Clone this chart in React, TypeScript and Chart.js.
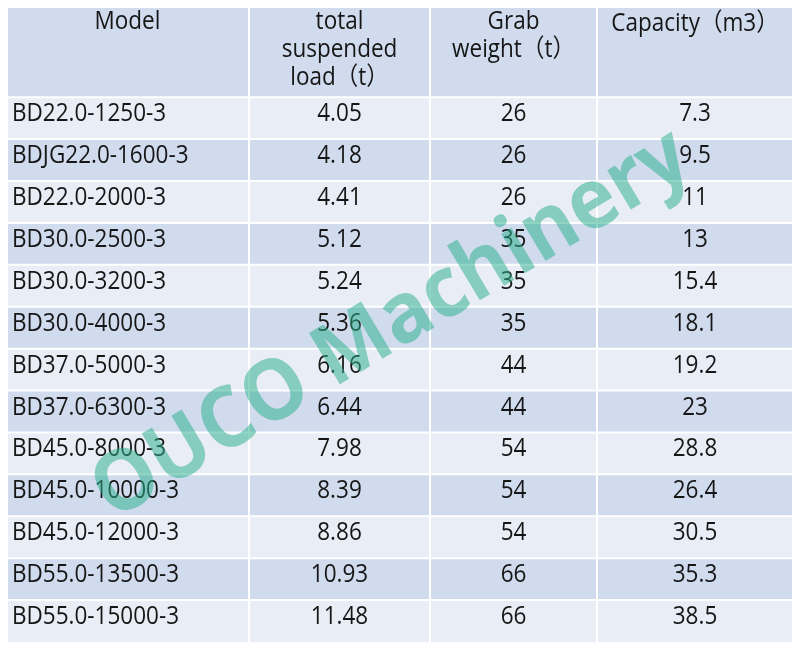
import React, { useEffect, useRef } from "react";
import { Chart, registerables } from "chart.js";

Chart.register(...registerables);

// ---- data ----
const HEADER_MODEL = ["Model"];
const HEADER_LOAD = ["total", "suspended", "load（t）"];
const HEADER_GRAB = ["Grab", "weight（t）"];
const HEADER_CAPACITY = ["Capacity（m3）"];

const MODELS = [
  "BD22.0-1250-3",
  "BDJG22.0-1600-3",
  "BD22.0-2000-3",
  "BD30.0-2500-3",
  "BD30.0-3200-3",
  "BD30.0-4000-3",
  "BD37.0-5000-3",
  "BD37.0-6300-3",
  "BD45.0-8000-3",
  "BD45.0-10000-3",
  "BD45.0-12000-3",
  "BD55.0-13500-3",
  "BD55.0-15000-3",
];
const TOTAL_LOAD = [4.05, 4.18, 4.41, 5.12, 5.24, 5.36, 6.16, 6.44, 7.98, 8.39, 8.86, 10.93, 11.48];
const GRAB_WEIGHT = [26, 26, 26, 35, 35, 35, 44, 44, 54, 54, 54, 66, 66];
const CAPACITY = [7.3, 9.5, 11, 13, 15.4, 18.1, 19.2, 23, 28.8, 26.4, 30.5, 35.3, 38.5];
const WATERMARK = "OUCO Machinery";

// ---- layout / style ----
const COL_WIDTHS = [243, 181, 167, 196];
const HEADER_UNITS = 2.2;
const DARK = "#d0dbee";
const LIGHT = "#e9edf6";
const TEXT = "#161616";
const FONT = "25px 'Open Sans', 'Noto Sans CJK SC', sans-serif";
const SX = 0.9;

function drawText(ctx: CanvasRenderingContext2D, text: string, px: number, py: number, align: CanvasTextAlign) {
  ctx.save();
  ctx.translate(px, py);
  ctx.scale(SX, 1);
  ctx.textAlign = align;
  ctx.textBaseline = "alphabetic";
  ctx.fillText(text, 0, 0);
  ctx.restore();
}

const tablePlugin = {
  id: "tablePlugin",
  beforeDatasetsDraw(chart: any) {
    const ctx: CanvasRenderingContext2D = chart.ctx;
    const xs = chart.scales.x;
    const ys = chart.scales.y;
    const colEdges = [0];
    COL_WIDTHS.forEach((w) => colEdges.push(colEdges[colEdges.length - 1] + w));
    const rowEdges = [0, HEADER_UNITS];
    MODELS.forEach((_, i) => rowEdges.push(HEADER_UNITS + i + 1));
    const headers = [HEADER_MODEL, HEADER_LOAD, HEADER_GRAB, HEADER_CAPACITY];
    const rows = MODELS.map((m, i) => [m, String(TOTAL_LOAD[i]), String(GRAB_WEIGHT[i]), String(CAPACITY[i])]);

    ctx.save();
    // cell fills
    for (let r = 0; r < rowEdges.length - 1; r++) {
      const top = ys.getPixelForValue(rowEdges[r]);
      const bot = ys.getPixelForValue(rowEdges[r + 1]);
      for (let c = 0; c < COL_WIDTHS.length; c++) {
        const l = xs.getPixelForValue(colEdges[c]);
        const rr = xs.getPixelForValue(colEdges[c + 1]);
        ctx.fillStyle = r % 2 === 0 ? DARK : LIGHT;
        ctx.fillRect(l, top, rr - l, bot - top);
      }
    }
    // white grid lines
    ctx.strokeStyle = "#ffffff";
    ctx.lineWidth = 2;
    const L = xs.getPixelForValue(0);
    const R = xs.getPixelForValue(colEdges[colEdges.length - 1]);
    const T = ys.getPixelForValue(0);
    const B = ys.getPixelForValue(rowEdges[rowEdges.length - 1]);
    for (let r = 1; r < rowEdges.length - 1; r++) {
      const y = ys.getPixelForValue(rowEdges[r]);
      ctx.beginPath();
      ctx.moveTo(L, y);
      ctx.lineTo(R, y);
      ctx.stroke();
    }
    for (let c = 1; c < colEdges.length - 1; c++) {
      const x = xs.getPixelForValue(colEdges[c]);
      ctx.beginPath();
      ctx.moveTo(x, T);
      ctx.lineTo(x, B);
      ctx.stroke();
    }

    // text
    ctx.fillStyle = TEXT;
    ctx.font = FONT;
    headers.forEach((lines, c) => {
      const cx = xs.getPixelForValue((colEdges[c] + colEdges[c + 1]) / 2);
      const off = c === 3 ? 26 : 24;
      lines.forEach((t, i) => drawText(ctx, t, cx, T + off + i * 28, "center"));
    });
    rows.forEach((cells, r) => {
      const top = ys.getPixelForValue(rowEdges[r + 1]);
      cells.forEach((t, c) => {
        if (c === 0) {
          drawText(ctx, t, xs.getPixelForValue(colEdges[0]) + 6, top + 24, "left");
        } else {
          const cx = xs.getPixelForValue((colEdges[c] + colEdges[c + 1]) / 2);
          drawText(ctx, t, cx, top + 24, "center");
        }
      });
    });
    ctx.restore();
  },
  afterDraw(chart: any) {
    const ctx: CanvasRenderingContext2D = chart.ctx;
    const a = chart.chartArea;
    const cx = (a.left + a.right) / 2 - 8;
    const cy = (a.top + a.bottom) / 2 + 2;
    ctx.save();
    ctx.translate(cx, cy);
    ctx.rotate((-31 * Math.PI) / 180);
    ctx.font = "bold 84px 'Open Sans', 'DejaVu Sans', sans-serif";
    const w = ctx.measureText(WATERMARK).width;
    const target = 680;
    ctx.scale(target / w, 1);
    ctx.fillStyle = "rgba(45, 176, 140, 0.52)";
    ctx.textAlign = "center";
    ctx.textBaseline = "middle";
    ctx.fillText(WATERMARK, 0, 0);
    ctx.restore();
  },
};

export default function App() {
  const ref = useRef<HTMLCanvasElement | null>(null);
  useEffect(() => {
    if (!ref.current) return;
    const total = COL_WIDTHS.reduce((s, v) => s + v, 0);
    const chart = new Chart(ref.current, {
      type: "scatter",
      data: {
        datasets: [
          {
            data: MODELS.map((_, i) => ({ x: COL_WIDTHS[0] / 2, y: HEADER_UNITS + i + 0.5 })),
            pointRadius: 0,
          },
        ],
      },
      options: {
        responsive: false,
        animation: false,
        devicePixelRatio: 1,
        layout: { padding: { left: 6, top: 5, right: 7, bottom: 8 } },
        plugins: { legend: { display: false }, tooltip: { enabled: false } },
        scales: {
          x: { type: "linear", min: 0, max: total, display: false },
          y: { type: "linear", min: 0, max: HEADER_UNITS + MODELS.length, reverse: true, display: false },
        },
      },
      plugins: [tablePlugin],
    });
    return () => chart.destroy();
  }, []);
  return (
    <div style={{ width: 800, height: 650, margin: -8, background: "#ffffff" }}>
      <canvas ref={ref} width={800} height={650} />
    </div>
  );
}
